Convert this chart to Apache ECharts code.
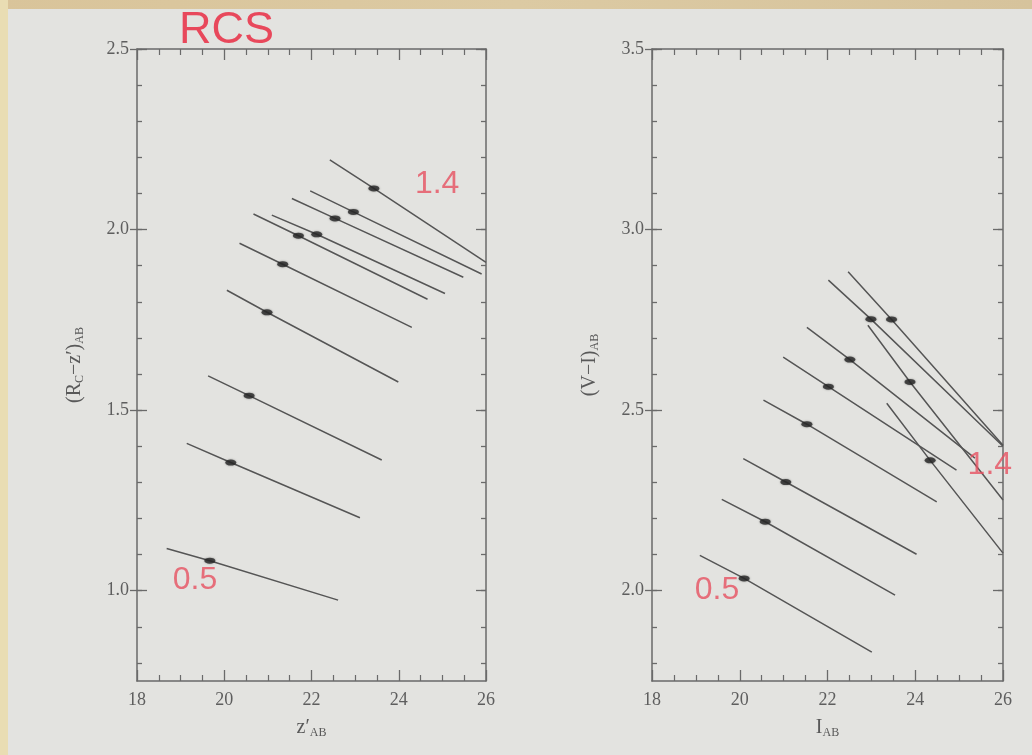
<!DOCTYPE html>
<html>
<head>
<meta charset="utf-8">
<title>RCS red sequence models</title>
<script src="https://cdn.jsdelivr.net/npm/echarts@6/dist/echarts.min.js"></script>
<style>
  html, body { margin: 0; padding: 0; background: #e3e3e0; }
  #chart { width: 1032px; height: 755px; }
</style>
</head>
<body>
<div id="chart"></div>
<script>
// tick labels
const magTicks = [18, 20, 22, 24, 26];
const leftColorTicks = [1.0, 1.5, 2.0, 2.5];
const rightColorTicks = [2.0, 2.5, 3.0, 3.5];

// left panel: (R_C - z')_AB vs z'_AB, one model line per redshift (0.5 ... 1.4)
const leftStart = [[18.68, 1.117], [19.14, 1.408], [19.63, 1.595], [20.06, 1.832], [20.35, 1.962],
  [20.67, 2.043], [21.09, 2.040], [21.55, 2.086], [21.97, 2.107], [22.42, 2.193]];
const leftDot = [[19.67, 1.083], [20.15, 1.355], [20.57, 1.540], [20.98, 1.771], [21.34, 1.904],
  [21.70, 1.983], [22.12, 1.987], [22.54, 2.031], [22.96, 2.049], [23.43, 2.114]];
const leftEnd = [[22.61, 0.974], [23.11, 1.202], [23.61, 1.362], [23.99, 1.578], [24.30, 1.729],
  [24.66, 1.807], [25.06, 1.823], [25.48, 1.868], [25.90, 1.877], [26.0, 1.909]];

// right panel: (V - I)_AB vs I_AB
const rightStart = [[19.09, 2.098], [19.59, 2.253], [20.08, 2.366], [20.54, 2.528], [20.99, 2.647],
  [21.53, 2.729], [22.02, 2.860], [22.47, 2.883], [22.92, 2.735], [23.35, 2.519]];
const rightDot = [[20.10, 2.034], [20.58, 2.191], [21.05, 2.301], [21.53, 2.461], [22.02, 2.565],
  [22.51, 2.640], [22.99, 2.752], [23.46, 2.751], [23.88, 2.578], [24.34, 2.361]];
const rightEnd = [[23.01, 1.830], [23.54, 1.988], [24.03, 2.101], [24.49, 2.246], [24.94, 2.334],
  [25.36, 2.367], [26.0, 2.400], [26.0, 2.403], [26.0, 2.251], [26.0, 2.104]];

// redshift notes written on the slide
const leftNoteText = ['1.4', '0.5'];
const leftNoteAt = [[24.88, 2.126], [19.33, 1.029]];
const rightNoteText = ['0.5', '1.4'];
const rightNoteAt = [[19.48, 2.001], [25.70, 2.348]];

const axisGray = '#6a6a6a';
const serif = '"Liberation Serif", "DejaVu Serif", serif';
const noteRed = '#e65060';

const chart = echarts.init(document.getElementById('chart'));

const nameStyle = {
  color: '#595959',
  fontFamily: serif,
  fontSize: 20,
  rich: {
    t: { fontFamily: serif, fontSize: 20, color: '#595959' },
    s: { fontFamily: serif, fontSize: 12, color: '#595959', padding: [10, 0, 0, 0] }
  }
};
const tickFont = { color: '#5e5e5e', fontFamily: serif, fontSize: 18 };

// bottom + top magnitude axes (ticks inside on both)
const magAxes = (gridIndex, name) => {
  const base = {
    type: 'value', gridIndex, min: 18, max: 26, interval: 2,
    splitLine: { show: false },
    axisLine: { lineStyle: { color: axisGray, width: 1.5 } },
    axisTick: { inside: true, length: 11, lineStyle: { color: axisGray, width: 1.3 } },
    minorTick: { show: true, splitNumber: 4, length: 6, lineStyle: { color: axisGray, width: 1.2 } }
  };
  return [
    Object.assign({}, base, {
      position: 'bottom', name, nameLocation: 'middle', nameGap: 36, nameTextStyle: nameStyle,
      axisLabel: Object.assign({ margin: 10 }, tickFont)
    }),
    Object.assign({}, base, { position: 'top', axisLabel: { show: false } })
  ];
};

// colour axes: labelled left axis with an outer dash, inner minor/major ticks, mirrored right side
const colorAxes = (gridIndex, min, max, majors, name) => {
  const minors = [];
  for (let v = Math.ceil(min * 10 - 1e-6); v <= Math.round(max * 10); v++) minors.push(v / 10);
  const line = { lineStyle: { color: axisGray, width: 1.5 } };
  const tick = (values, inside, length) => ({
    customValues: values, inside, length, lineStyle: { color: axisGray, width: 1.3 }
  });
  const base = { type: 'value', gridIndex, min, max, splitLine: { show: false } };
  return [
    Object.assign({}, base, {
      position: 'left', name, nameLocation: 'middle', nameGap: 51, nameTextStyle: nameStyle,
      axisLine: line, axisTick: tick(majors, false, 7),
      axisLabel: Object.assign({ customValues: majors, formatter: v => v.toFixed(1), margin: 8 }, tickFont)
    }),
    Object.assign({}, base, {
      position: 'left', axisLine: { show: false }, axisTick: tick(minors, true, 5), axisLabel: { show: false }
    }),
    Object.assign({}, base, {
      position: 'left', axisLine: { show: false }, axisTick: tick(majors, true, 10), axisLabel: { show: false }
    }),
    Object.assign({}, base, {
      position: 'right', axisLine: line, axisTick: tick(minors, true, 5), axisLabel: { show: false }
    }),
    Object.assign({}, base, {
      position: 'right', axisLine: { show: false }, axisTick: tick(majors, true, 10), axisLabel: { show: false }
    })
  ];
};

const panelSeries = (xi, yi, starts, dots, ends, noteText, noteAt) => {
  const out = starts.map((s, i) => ({
    type: 'line', xAxisIndex: xi, yAxisIndex: yi,
    data: [s, dots[i], ends[i]],
    showSymbol: false, silent: true,
    lineStyle: { color: '#555', width: 1.5 }
  }));
  out.push({
    type: 'scatter', xAxisIndex: xi, yAxisIndex: yi, data: dots,
    symbol: 'circle', symbolSize: [11, 6], z: 3,
    itemStyle: { color: '#2b2b2b', shadowBlur: 2, shadowColor: 'rgba(0,0,0,0.5)' }
  });
  out.push({
    type: 'scatter', xAxisIndex: xi, yAxisIndex: yi, z: 5,
    data: noteAt.map((p, i) => ({ value: p, name: noteText[i] })),
    symbolSize: 1, itemStyle: { color: 'rgba(0,0,0,0)' },
    label: {
      show: true, position: 'inside', formatter: p => p.name,
      color: noteRed, fontSize: 32, fontFamily: '"Liberation Sans", Arial, sans-serif'
    }
  });
  return out;
};

const option = {
  backgroundColor: '#e3e3e0',
  animation: false,
  graphic: [
    { type: 'rect', left: 0, top: 0, z: -10, shape: { width: 1032, height: 9 },
      style: { fill: new echarts.graphic.LinearGradient(0, 0, 1, 0, [
        { offset: 0, color: '#d9c49a' }, { offset: 0.5, color: '#dccaa3' }, { offset: 1, color: '#d6c39c' }]) } },
    { type: 'rect', left: 0, top: 0, z: -10, shape: { width: 8, height: 755 },
      style: { fill: '#e9ddb3' } },
    { type: 'text', left: 179, top: 8, z: 10,
      style: { text: 'RCS', fill: '#e8485b', fontSize: 45, fontFamily: '"Liberation Sans", Arial, sans-serif' } }
  ],
  grid: [
    { left: 137, top: 49, width: 349, height: 632 },
    { left: 652, top: 49, width: 351, height: 632 }
  ],
  xAxis: [
    ...magAxes(0, '{t|z\u2032}{s|AB}'),
    ...magAxes(1, '{t|I}{s|AB}')
  ],
  yAxis: [
    ...colorAxes(0, 0.75, 2.5, leftColorTicks, '{t|(R}{s|C}{t|\u2212z\u2032)}{s|AB}'),
    ...colorAxes(1, 1.75, 3.5, rightColorTicks, '{t|(V\u2212I)}{s|AB}')
  ],
  series: [
    ...panelSeries(0, 0, leftStart, leftDot, leftEnd, leftNoteText, leftNoteAt),
    ...panelSeries(2, 5, rightStart, rightDot, rightEnd, rightNoteText, rightNoteAt)
  ]
};

// x tick label values come from magTicks (interval 2 from 18)
option.xAxis.forEach(ax => { ax.min = magTicks[0]; ax.max = magTicks[magTicks.length - 1]; });

chart.setOption(option);
</script>
</body>
</html>
